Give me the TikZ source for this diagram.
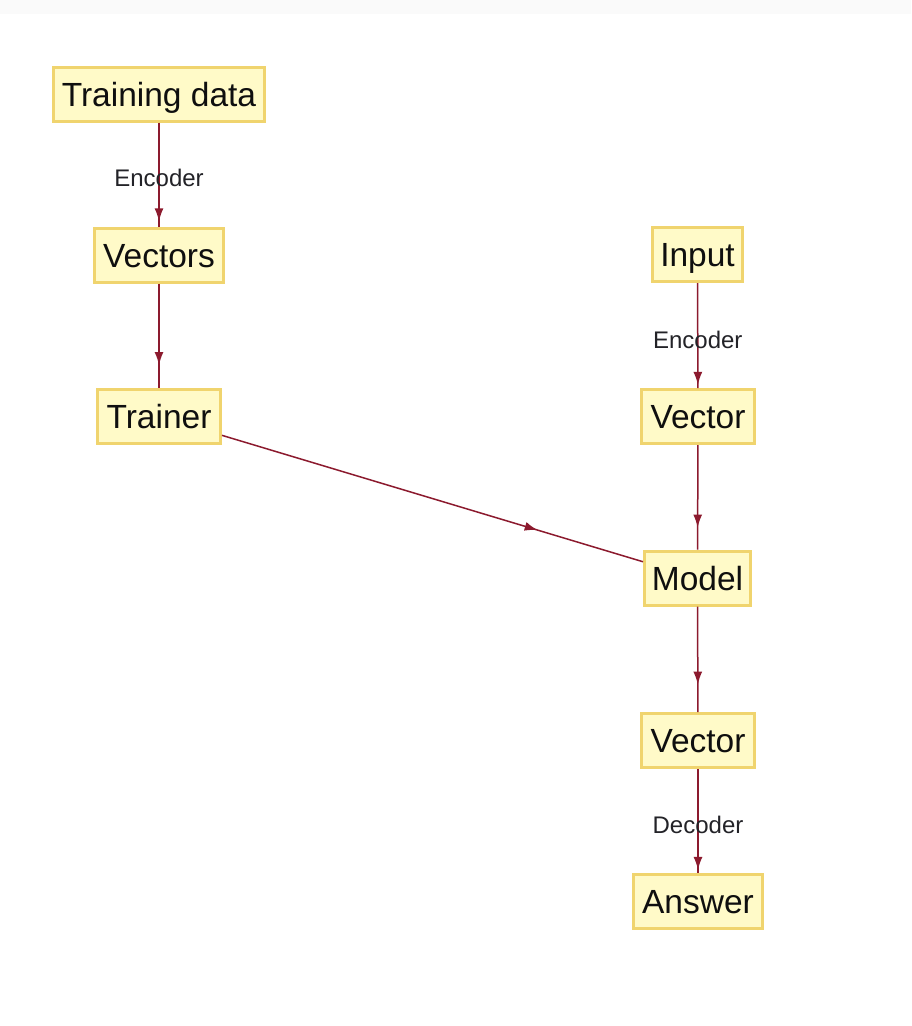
\documentclass[tikz,border=0pt]{standalone}
\usepackage{fontspec}
\setmainfont{Liberation Sans}
\usetikzlibrary{arrows.meta,decorations.markings}
\definecolor{edgecol}{RGB}{140,26,46}
\definecolor{boxfill}{RGB}{255,250,200}
\definecolor{boxline}{RGB}{240,212,110}
\definecolor{txtcol}{RGB}{15,15,15}
\definecolor{labcol}{RGB}{35,35,40}
\tikzset{
  box/.style={draw=boxline, fill=boxfill, line width=3pt, rectangle,
    minimum height=54pt, inner sep=0pt, text height=24pt, text depth=0pt,
    font=\fontsize{33.5}{38}\selectfont, text=txtcol},
  edge/.style={draw=edgecol, line width=1.5pt},
  midarrow/.style={postaction={decorate}, decoration={markings,
    mark=at position #1 with {\arrow{Latex[length=13pt,width=9pt]}}}},
  lab/.style={font=\fontsize{24}{28}\selectfont, text=labcol, inner sep=1pt}
}
\begin{document}
\begin{tikzpicture}[x=1pt,y=-1pt]
\useasboundingbox (0,0) rectangle (911,1026);
\fill[white] (0,0) rectangle (911,1026);
\fill[black!2] (0,0) rectangle (911,14);
\node[box, minimum width=211pt] (td) at (159,94) {Training data};
\node[box, minimum width=129pt] (vecs) at (159,255) {Vectors};
\node[box, minimum width=123pt] (trainer) at (159,416.5) {Trainer};
\node[box, minimum width=90pt] (input) at (697.5,254.5) {Input};
\node[box, minimum width=113pt] (vec1) at (698,416.5) {Vector};
\node[box, minimum width=106pt] (model) at (697.5,578) {Model};
\node[box, minimum width=113pt] (vec2) at (698,740.5) {Vector};
\node[box, minimum width=129pt] (answer) at (698,901.5) {Answer};
\draw[edge, midarrow=0.95] (td) -- node[lab, pos=0.53] {Encoder} (vecs);
\draw[edge, midarrow=0.78] (vecs) -- (trainer);
\draw[edge, midarrow=0.75] (trainer) -- (model);
\draw[edge, midarrow=0.97] (input) -- node[lab, pos=0.54] {Encoder} (vec1);
\draw[edge, midarrow=0.79] (vec1) -- (model);
\draw[edge, midarrow=0.74] (model) -- (vec2);
\draw[edge, midarrow=0.97] (vec2) -- node[lab, pos=0.54] {Decoder} (answer);
\end{tikzpicture}
\end{document}
